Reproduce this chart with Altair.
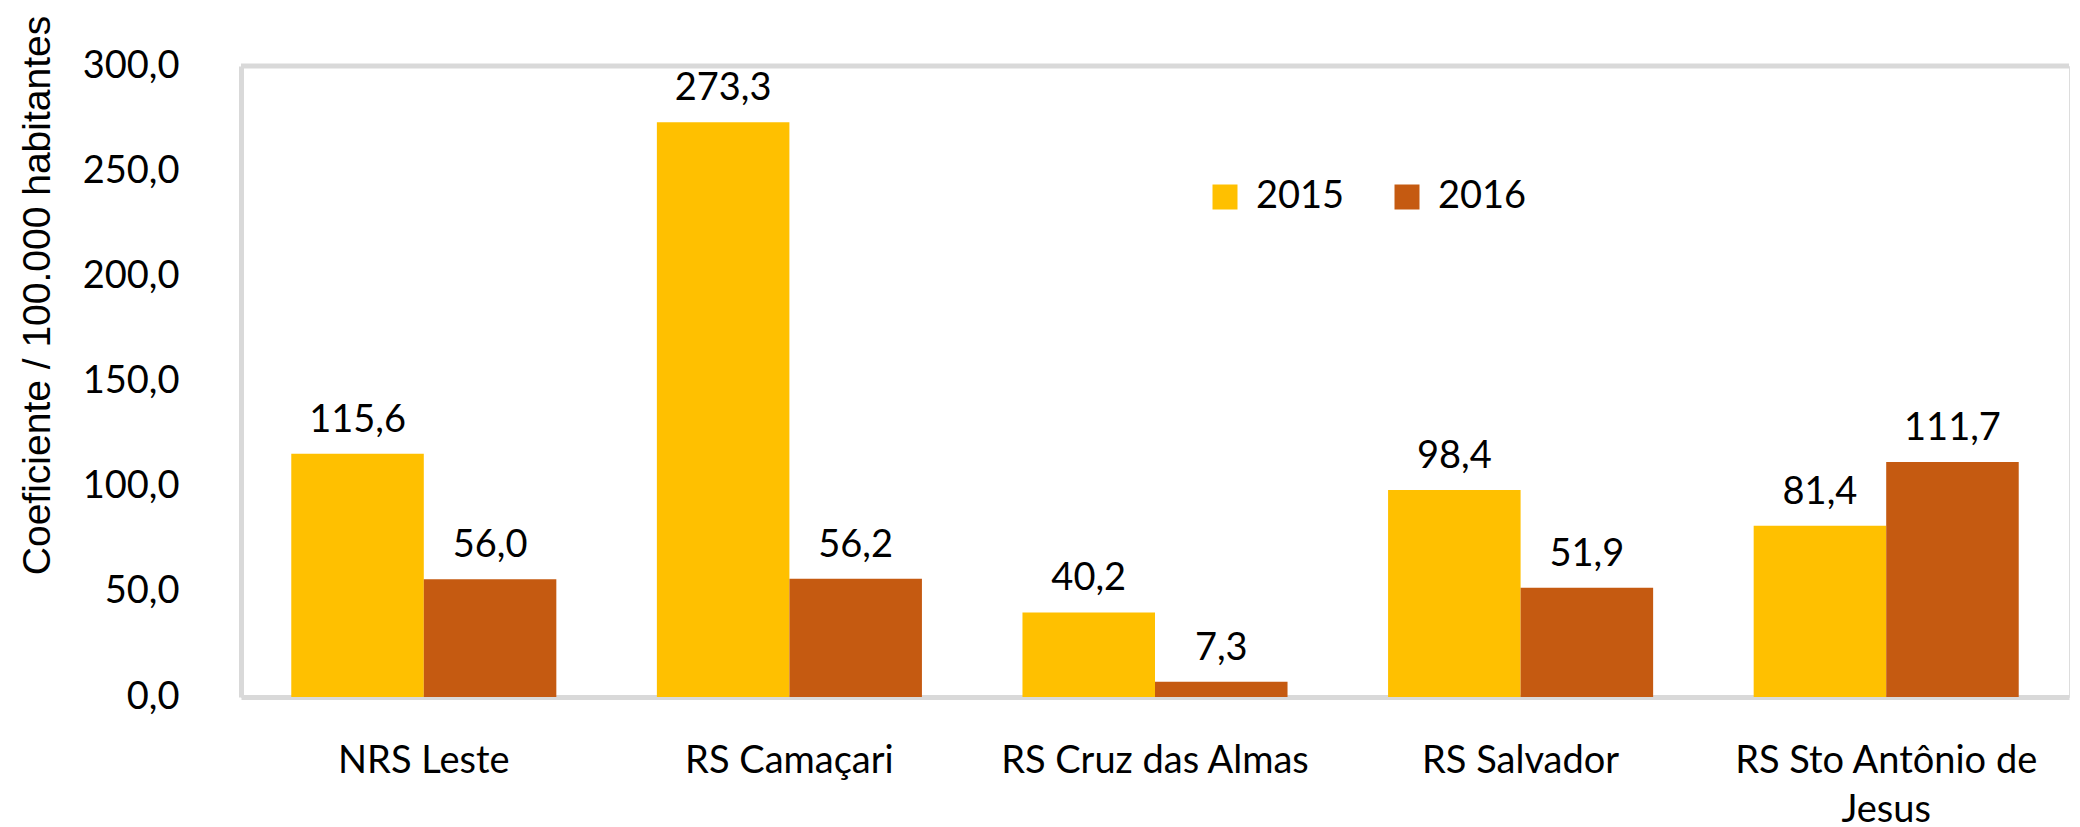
import altair as alt
import pandas as pd

categories = ["NRS Leste", "RS  Camaçari", "RS Cruz das Almas", "RS Salvador", "RS Sto Antônio de Jesus"]
years = ["2015", "2016"]
values_2015 = [115.6, 273.3, 40.2, 98.4, 81.4]
values_2016 = [56.0, 56.2, 7.3, 51.9, 111.7]
y_ticks = [0, 50, 100, 150, 200, 250, 300]
colors = ["#FFC000", "#C55A11"]

rows = []
for c, a, b in zip(categories, values_2015, values_2016):
    rows.append({"cat": c, "year": years[0], "value": a})
    rows.append({"cat": c, "year": years[1], "value": b})
df = pd.DataFrame(rows)

FONT = "Lato"
FRAME = "#d9d9d9"

x_enc = alt.X(
    "cat:N",
    sort=categories,
    scale=alt.Scale(paddingInner=0.275, paddingOuter=0.1375),
    axis=alt.Axis(
        title=None,
        labelAngle=0,
        labelFont=FONT,
        labelFontSize=38,
        labelColor="black",
        labelPadding=45,
        labelLimit=500,
        labelLineHeight=49,
        ticks=False,
        domainColor=FRAME,
        domainWidth=5,
        labelExpr="datum.label == 'RS Sto Antônio de Jesus' ? ['RS Sto Antônio de', 'Jesus'] : datum.label",
    ),
)
xoff = alt.XOffset("year:N", sort=years, scale=alt.Scale(paddingInner=0, paddingOuter=0))
y_enc = alt.Y(
    "value:Q",
    scale=alt.Scale(domain=[0, 300], nice=False),
    axis=alt.Axis(
        values=y_ticks,
        labelExpr="replace(format(datum.value, '.1f'), '.', ',')",
        labelFont=FONT,
        labelFontSize=38,
        labelColor="black",
        labelPadding=62,
        ticks=False,
        grid=False,
        domainColor=FRAME,
        domainWidth=5,
        title="Coeficiente / 100.000 habitantes",
        titleFont="Liberation Sans",
        titleFontSize=39,
        titleFontWeight="normal",
        titleColor="black",
        titleX=-204,
        titleY=229,
        titleAngle=-90,
        titleAlign="center",
        titleBaseline="middle",
    ),
)

base = alt.Chart(df)

bars = base.mark_bar().encode(
    x=x_enc,
    xOffset=xoff,
    y=y_enc,
    color=alt.Color(
        "year:N",
        scale=alt.Scale(domain=years, range=colors),
        legend=alt.Legend(
            title=None,
            orient="none",
            legendX=965,
            legendY=112,
            direction="horizontal",
            symbolType="square",
            symbolSize=625,
            symbolStrokeWidth=0,
            labelFont=FONT,
            labelFontSize=38,
            labelColor="black",
            labelOffset=12,
            columnPadding=43,
        ),
    ),
)

labels = base.transform_calculate(
    label="replace(format(datum.value, '.1f'), '.', ',')"
).mark_text(baseline="bottom", dy=-14, font=FONT, fontSize=38, color="black").encode(
    x=alt.X("cat:N", sort=categories),
    xOffset=alt.XOffset("year:N", sort=years),
    y=alt.Y("value:Q"),
    text="label:N",
)

top_frame = alt.Chart(pd.DataFrame({"v": [300]})).mark_rule(color=FRAME, strokeWidth=5).encode(
    y=alt.Y("v:Q")
)

chart = (
    alt.layer(bars, labels, top_frame)
    .properties(width=1828, height=631, padding={"left": 9, "top": 7, "right": 0, "bottom": 0})
    .configure_view(stroke=None)
    .configure(background="white")
)

chart.save("out.html", embed_options={"renderer": "svg", "actions": False})
